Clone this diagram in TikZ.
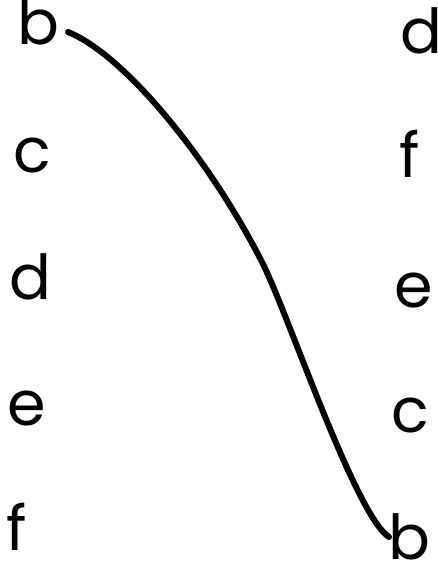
\documentclass[tikz,border=0pt]{standalone}
\usepackage{fontspec}
\setmainfont{Poppins}
\begin{document}
\begin{tikzpicture}[x=1pt,y=-1pt,
  letter/.style={anchor=base,inner sep=0pt,font=\fontsize{62}{62}\selectfont},
  wire/.style={line width=6pt,line cap=round,line join=round}]
\useasboundingbox (0,0) rectangle (438,565);
% left column
\node[letter] (lb) at (38,44) {b};
\node[letter] (lc) at (32,172) {c};
\node[letter] (ld) at (30,299) {d};
\node[letter] (le) at (27,425) {e};
\node[letter] (lf) at (17,550) {f};
% right column
\node[letter] (rd) at (421,53) {d};
\node[letter] (rf) at (410,177) {f};
\node[letter] (re) at (414,307) {e};
\node[letter] (rc) at (410,432) {c};
\node[letter] (rb) at (409,559) {b};
% curve
\coordinate (s) at (68,32);
\coordinate (m) at (262,262);
\coordinate (t) at (389,537);
\draw[wire] (s) .. controls (125,55) and (210,160) .. (m)
            .. controls (288,313) and (355,515) .. (t);
\end{tikzpicture}
\end{document}
